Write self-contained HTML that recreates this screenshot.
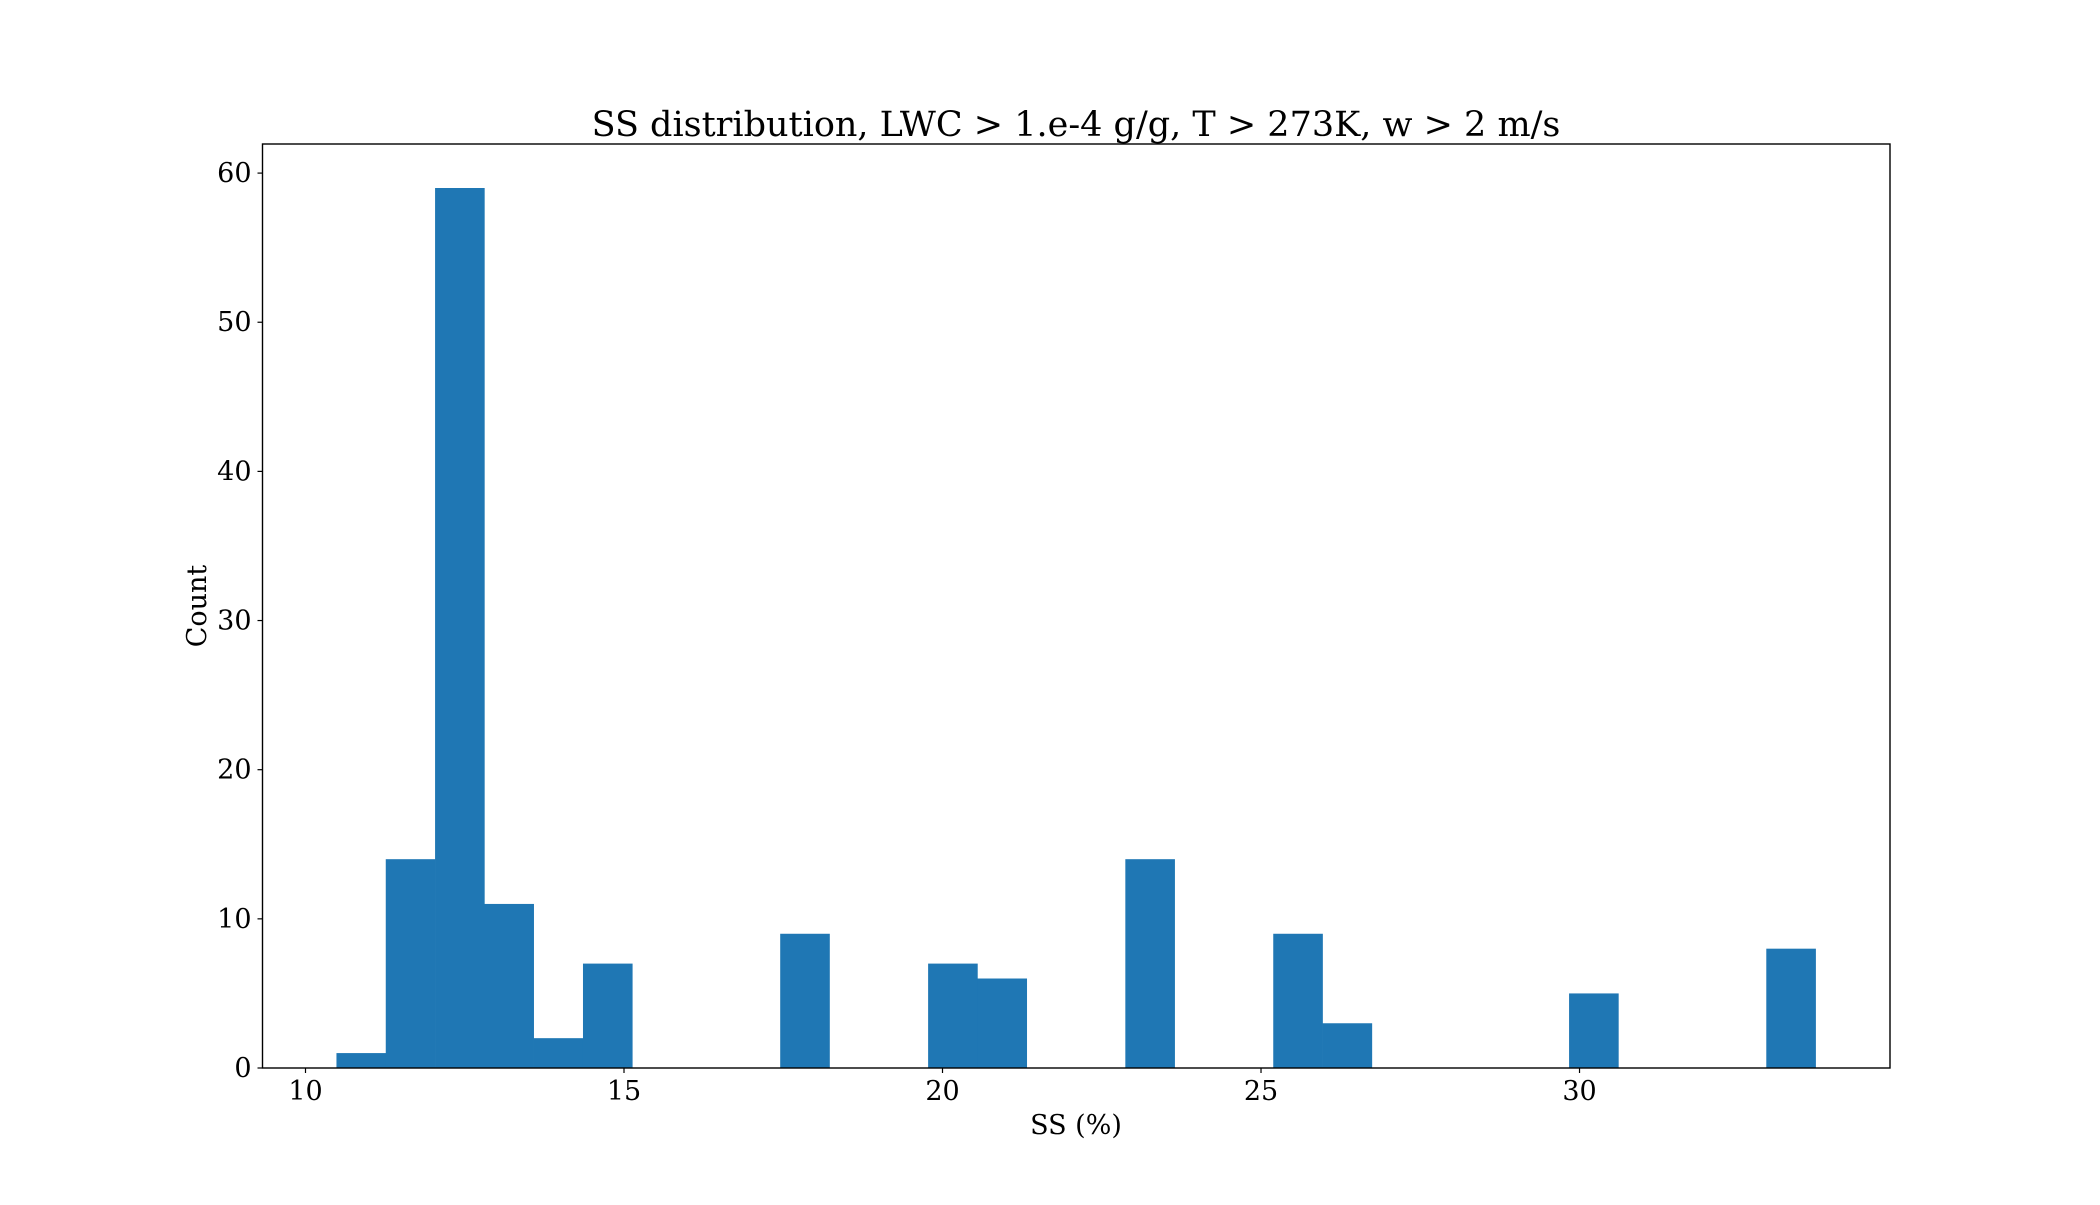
<!DOCTYPE html>
<html><head><meta charset="utf-8"><style>
html,body{margin:0;padding:0;background:#fff;}
svg text{font-family:"DejaVu Serif","Liberation Serif",serif;fill:#000;}
</style></head><body>
<svg id="chart" width="2100" height="1200" viewBox="0 0 2100 1200" xmlns="http://www.w3.org/2000/svg">
<rect x="0" y="0" width="2100" height="1200" fill="#fff"/>
<g id="bars"></g>
<g id="xticks"></g>
<g id="yticks"></g>
<rect x="262.5" y="144" width="1627.5" height="924" fill="none" stroke="#000" stroke-width="1.4"/>
<text x="1076" y="136" font-size="35" text-anchor="middle">SS distribution, LWC &gt; 1.e-4 g/g, T &gt; 273K, w &gt; 2 m/s</text>
<text x="1076" y="1134" font-size="27" text-anchor="middle">SS (%)</text>
<text x="0" y="0" font-size="27" text-anchor="middle" transform="translate(206,606) rotate(-90)">Count</text>
</svg>
<script>
const binStart = 10.486;
const binWidth = 0.774;
const counts = [1,14,59,11,2,7,0,0,0,9,0,0,7,6,0,0,14,0,0,9,3,0,0,0,0,5,0,0,0,8];
const xTicks = [10,15,20,25,30];
const yTicks = [0,10,20,30,40,50,60];
const L=262.5,R=1890,T=144,B=1068;
const xmin=9.325,xmax=34.874,ymax=61.95;
const NS='http://www.w3.org/2000/svg';
const xs=v=>L+(v-xmin)/(xmax-xmin)*(R-L);
const ys=v=>B-v/ymax*(B-T);
const bars=document.getElementById('bars');
counts.forEach((c,i)=>{
  if(c<=0) return;
  const r=document.createElementNS(NS,'rect');
  const x0=xs(binStart+i*binWidth), x1=xs(binStart+(i+1)*binWidth);
  r.setAttribute('x',x0);r.setAttribute('width',x1-x0+0.3);
  r.setAttribute('y',ys(c));r.setAttribute('height',B-ys(c));
  r.setAttribute('fill','#1f77b4');
  
  
  bars.appendChild(r);
});
const xg=document.getElementById('xticks');
xTicks.forEach(t=>{
  const l=document.createElementNS(NS,'line');
  l.setAttribute('x1',xs(t));l.setAttribute('x2',xs(t));l.setAttribute('y1',B);l.setAttribute('y2',B+5);
  l.setAttribute('stroke','#000');l.setAttribute('stroke-width','1.2');
  
  
  xg.appendChild(l);
  const tx=document.createElementNS(NS,'text');
  tx.setAttribute('x',xs(t));tx.setAttribute('y',B+32);tx.setAttribute('font-size','27');tx.setAttribute('text-anchor','middle');
  tx.textContent=t;
  
  
  xg.appendChild(tx);
});
const yg=document.getElementById('yticks');
yTicks.forEach(t=>{
  const l=document.createElementNS(NS,'line');
  l.setAttribute('x1',L-5);l.setAttribute('x2',L);l.setAttribute('y1',ys(t));l.setAttribute('y2',ys(t));
  l.setAttribute('stroke','#000');l.setAttribute('stroke-width','1.2');
  
  
  yg.appendChild(l);
  const tx=document.createElementNS(NS,'text');
  tx.setAttribute('x',L-11);tx.setAttribute('y',ys(t)+9);tx.setAttribute('font-size','27');tx.setAttribute('text-anchor','end');
  tx.textContent=t;
  
  
  yg.appendChild(tx);
});
</script>
</body></html>
